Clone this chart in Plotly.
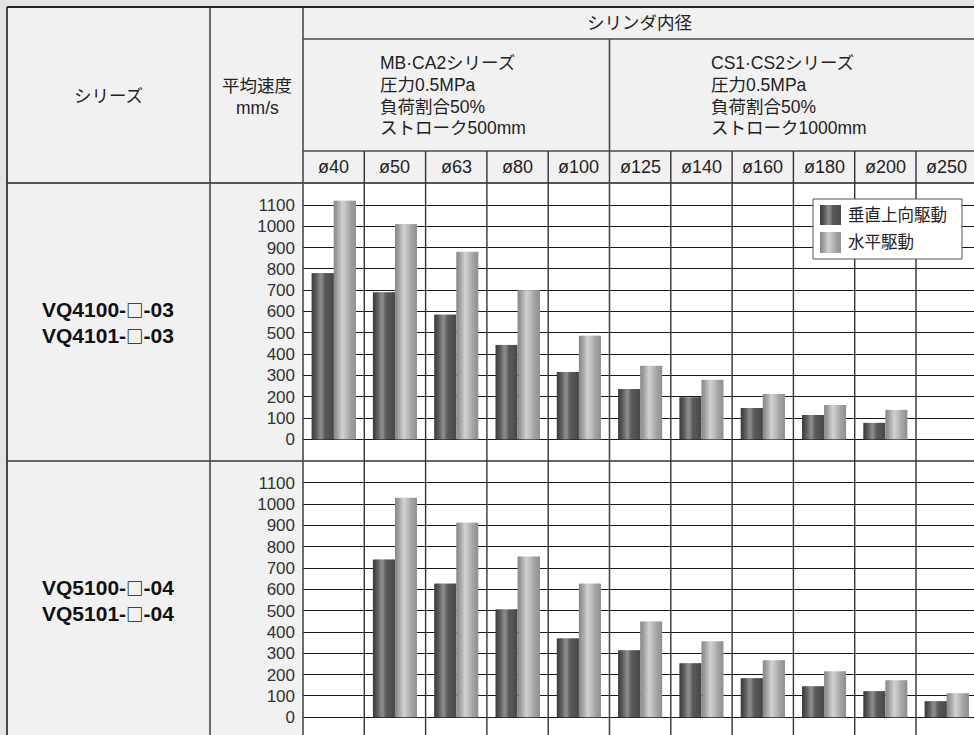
import plotly.graph_objects as go

W, H = 974, 735

# ---------------- data ----------------
BORES = ["ø40", "ø50", "ø63", "ø80", "ø100", "ø125", "ø140", "ø160", "ø180", "ø200", "ø250"]
SERIES_NAMES = ["垂直上向駆動", "水平駆動"]
PANEL_LABELS = [[["VQ4100-", "□", "-03"], ["VQ4101-", "□", "-03"]],
                [["VQ5100-", "□", "-04"], ["VQ5101-", "□", "-04"]]]

VQ4_VERTICAL = [780, 690, 585, 443, 316, 236, 197, 147, 114, 77, None]
VQ4_HORIZONTAL = [1120, 1010, 880, 700, 486, 345, 279, 213, 161, 138, None]
VQ5_VERTICAL = [None, 740, 627, 506, 370, 314, 253, 183, 145, 122, 75]
VQ5_HORIZONTAL = [None, 1030, 913, 754, 627, 449, 356, 267, 215, 173, 112]

Y_TICKS = [0, 100, 200, 300, 400, 500, 600, 700, 800, 900, 1000, 1100]

HEAD_SERIES = "シリーズ"
HEAD_SPEED = ["平均速度", "mm/s"]
HEAD_BORE = "シリンダ内径"
GROUP1 = ["MB·CA2シリーズ", "圧力0.5MPa", "負荷割合50%", "ストローク500mm"]
GROUP2 = ["CS1·CS2シリーズ", "圧力0.5MPa", "負荷割合50%", "ストローク1000mm"]

# ---------------- layout helpers (pixels) ----------------
FONT = "Liberation Sans, Noto Sans CJK JP"
X0, COLW = 303.0, 61.3
def px(x):
    return x / W
def py(y):
    return 1 - y / H
def col_edge(i):
    return X0 + i * COLW
def col_center(i):
    return X0 + (i + 0.5) * COLW

P1_TOP, P1_BOT = 183, 461
P2_TOP, P2_BOT = 461, 735

def interp(stops, t):
    for (t0, v0), (t1, v1) in zip(stops, stops[1:]):
        if t0 <= t <= t1:
            f = (t - t0) / (t1 - t0) if t1 > t0 else 0
            return v0 + (v1 - v0) * f
    return stops[-1][1]

DARK_STOPS = [(0, 0x3a), (0.18, 0x56), (0.40, 0x8c), (0.48, 0x86), (0.58, 0x5c), (1.0, 0x48)]
LIGHT_STOPS = [(0, 0x86), (0.2, 0xa6), (0.40, 0xd2), (0.52, 0xc4), (0.75, 0xa4), (1.0, 0x90)]
NSTRIPES = 14

def stripe_colors(stops, n):
    out = []
    for k in range(n):
        v = int(round(interp(stops, (k + 0.5) / n)))
        out.append("#%02x%02x%02x" % (v, v, v))
    return out

DARK_COLS = stripe_colors(DARK_STOPS, NSTRIPES)
LIGHT_COLS = stripe_colors(LIGHT_STOPS, NSTRIPES)

BAR_W = 0.36
x_pos = list(range(len(BORES)))

fig = go.Figure()

def add_series(values, cols, base_off, xa, ya, name):
    step = BAR_W / NSTRIPES
    for k, c in enumerate(cols):
        wdt = step * 1.6 if k < NSTRIPES - 1 else step
        fig.add_trace(go.Bar(
            x=x_pos, y=values, name=name, width=wdt, offset=base_off + k * step,
            marker=dict(color=c, line=dict(width=0)), showlegend=False,
            xaxis=xa, yaxis=ya, hoverinfo="y",
        ))

add_series(VQ4_VERTICAL, DARK_COLS, -BAR_W, "x", "y", SERIES_NAMES[0])
add_series(VQ4_HORIZONTAL, LIGHT_COLS, 0, "x", "y", SERIES_NAMES[1])
add_series(VQ5_VERTICAL, DARK_COLS, -BAR_W, "x2", "y2", SERIES_NAMES[0])
add_series(VQ5_HORIZONTAL, LIGHT_COLS, 0, "x2", "y2", SERIES_NAMES[1])

x_end = -0.5 + (W - X0) / COLW
xax = dict(domain=[px(X0), 1], range=[-0.5, x_end], showgrid=False, zeroline=False,
           showticklabels=False, ticks="", fixedrange=True)

px_per_unit = (439.3 - 205.0) / 1100
def yrange(zero_px, top_px, bot_px):
    return [-(bot_px - zero_px) / px_per_unit, (zero_px - top_px) / px_per_unit]

yax_common = dict(tickvals=Y_TICKS, ticktext=[str(v) for v in Y_TICKS], showgrid=True,
                  gridcolor="#1a1a1a", gridwidth=1.2, zeroline=False, ticks="",
                  ticklabelstandoff=7, tickfont=dict(family="Liberation Sans", size=17, color="#333"),
                  showline=False, fixedrange=True)

fig.update_layout(
    width=W, height=H, margin=dict(l=0, r=0, t=0, b=0),
    paper_bgcolor="#f1f1f1", plot_bgcolor="white",
    barmode="overlay", showlegend=False,
    font=dict(family=FONT, color="#222"),
    xaxis=dict(**xax, anchor="y"),
    xaxis2=dict(**xax, anchor="y2", matches="x"),
    yaxis=dict(**yax_common, domain=[py(P1_BOT), py(P1_TOP)], range=yrange(439.3, P1_TOP, P1_BOT), anchor="x"),
    yaxis2=dict(**yax_common, domain=[0, py(P2_TOP)], range=yrange(717.2, P2_TOP, P2_BOT), anchor="x2"),
)

shapes = []
def rect(x0, y0, x1, y1, fill, line_color=None, lw=0, layer="above"):
    shapes.append(dict(type="rect", xref="paper", yref="paper", x0=px(x0), x1=px(x1),
                       y0=py(y1), y1=py(y0), fillcolor=fill, layer=layer,
                       line=dict(color=line_color or fill, width=lw)))
def hline(y, x0, x1, color="#4a4a4a", w=1.6):
    shapes.append(dict(type="line", xref="paper", yref="paper", x0=px(x0), x1=px(x1),
                       y0=py(y), y1=py(y), line=dict(color=color, width=w)))
def vline(x, y0, y1, color="#4a4a4a", w=1.6):
    shapes.append(dict(type="line", xref="paper", yref="paper", x0=px(x), x1=px(x),
                       y0=py(y0), y1=py(y1), line=dict(color=color, width=w)))

# outer grey surround
rect(0, 0, 7, H, "#e3e3e3")
rect(0, 0, W, 7, "#e3e3e3")

# header lines
hline(39, X0, W)
hline(151, X0, W)
hline(183, 7, W, color="#555", w=2)
hline(461, 7, W, color="#666", w=2.2)
vline(210, 7, H)
vline(X0, 7, H)
vline(col_edge(5), 39, H)
for i in range(1, len(BORES)):
    if i != 5:
        vline(col_edge(i), 151, H, color="#333", w=1.4)
# outer border
hline(7, 7, W, color="#222", w=2)
vline(7, 7, H, color="#333", w=1.8)

# legend box
LX0, LY0, LX1, LY1 = 813, 199, 962, 259
rect(LX0, LY0, LX1, LY1, "white", line_color="#555", lw=1)
for j, (cols, sy0, sy1) in enumerate([(DARK_COLS, 205, 225), (LIGHT_COLS, 232, 253)]):
    sx0, sx1 = 820, 841
    n = len(cols)
    sw = (sx1 - sx0) / n
    for k, c in enumerate(cols):
        rect(sx0 + k * sw, sy0, sx0 + (k + 1) * sw + (0.6 if k < n - 1 else 0), sy1, c)

fig.update_layout(shapes=shapes)

ann = []
def text(x, y, s, size=17.5, anchor="center", family=FONT, color="#222"):
    ann.append(dict(x=px(x), y=py(y), xref="paper", yref="paper", text=s, showarrow=False,
                    xanchor=anchor, yanchor="middle", borderpad=0,
                    align="left" if anchor == "left" else "center",
                    font=dict(family=family, size=size, color=color)))

def label_html(parts):
    box = "<span style=\"font-family:'Noto Sans CJK JP';font-size:17.5px\">%s</span>"
    return "<b>" + parts[0] + box % parts[1] + parts[2] + "</b>"

LINE_Y = [63.5, 85.5, 107, 128.5]

text(108, 96, HEAD_SERIES)
text(257, 86, HEAD_SPEED[0])
text(257, 107.5, HEAD_SPEED[1])
text(640, 23, HEAD_BORE)
for line, yy in zip(GROUP1, LINE_Y):
    text(379, yy, line, anchor="left")
for line, yy in zip(GROUP2, LINE_Y):
    text(710, yy, line, anchor="left")
for i, b in enumerate(BORES):
    text(col_center(i), 167, b, size=18)
for parts, yy in zip(PANEL_LABELS[0], [309.5, 335.5]):
    text(108, yy, label_html(parts), size=21, family="Liberation Sans", color="#111")
for parts, yy in zip(PANEL_LABELS[1], [587, 613.5]):
    text(108, yy, label_html(parts), size=21, family="Liberation Sans", color="#111")
text(847, 215, SERIES_NAMES[0], size=16.5, anchor="left")
text(847, 242, SERIES_NAMES[1], size=16.5, anchor="left")

fig.update_layout(annotations=ann)

fig.write_html("out.html", config={"displayModeBar": False},
               post_script="document.body.style.margin='0';document.body.style.overflow='hidden';")
